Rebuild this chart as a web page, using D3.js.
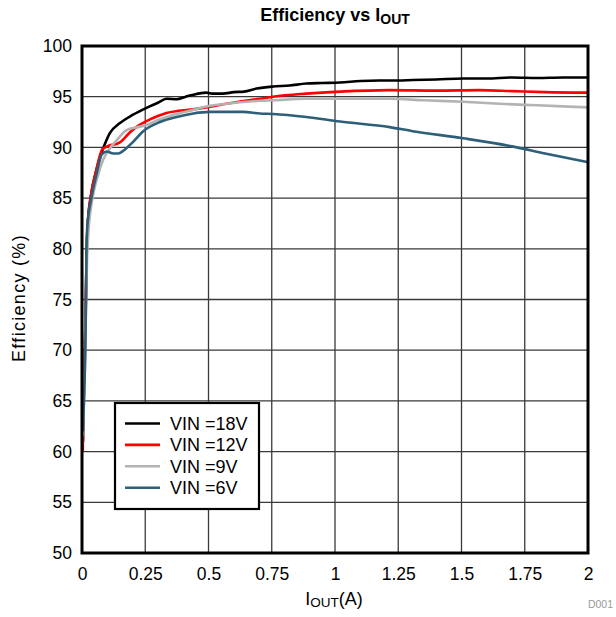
<!DOCTYPE html>
<html><head><meta charset="utf-8">
<script src="https://cdn.jsdelivr.net/npm/d3@7"></script>
<style>body{margin:0;background:#fff}svg{display:block;font-family:"Liberation Sans",Arial,sans-serif}</style>
</head><body>
<svg id="c" width="616" height="617"></svg>
<script>
const xTicks = [0,0.25,0.5,0.75,1,1.25,1.5,1.75,2];
const xTickLabels = ["0","0.25","0.5","0.75","1","1.25","1.5","1.75","2"];
const yTicks = [50,55,60,65,70,75,80,85,90,95,100];
const seriesNames = ["VIN =18V","VIN =12V","VIN =9V","VIN =6V"];
const seriesColors = ["#000000","#ff0000","#b3b3b3","#2e5f78"];
const vin18 = [[0.004,61],[0.008,66],[0.012,70.5],[0.016,76],[0.019,80],[0.023,82.5],[0.035,85.2],[0.055,87.6],[0.075,89.3],[0.09,90.3],[0.11,91.4],[0.15,92.4],[0.2,93.2],[0.255,93.9],[0.3,94.4],[0.334,94.8],[0.374,94.75],[0.41,95.0],[0.44,95.2],[0.49,95.4],[0.52,95.3],[0.556,95.3],[0.6,95.45],[0.64,95.5],[0.69,95.8],[0.755,96.0],[0.82,96.1],[0.887,96.3],[0.95,96.35],[1.02,96.4],[1.1,96.55],[1.176,96.6],[1.25,96.6],[1.307,96.65],[1.4,96.7],[1.506,96.8],[1.6,96.8],[1.7,96.9],[1.8,96.85],[1.9,96.9],[2.0,96.9]];
const vin12 = [[0.003,60],[0.004,62.3],[0.008,66.5],[0.012,71],[0.016,76.5],[0.019,80.5],[0.023,82.5],[0.035,85.2],[0.055,87.6],[0.08,89.8],[0.1,90.1],[0.15,90.5],[0.19,91.5],[0.22,92.1],[0.255,92.6],[0.3,93.1],[0.334,93.4],[0.38,93.6],[0.44,93.75],[0.505,94.0],[0.571,94.3],[0.62,94.5],[0.703,94.8],[0.755,95.0],[0.887,95.3],[1.02,95.5],[1.216,95.65],[1.4,95.6],[1.57,95.65],[1.7,95.55],[1.83,95.45],[2.0,95.4]];
const vin9 = [[0.004,61.5],[0.008,65],[0.012,69],[0.016,74.5],[0.02,79],[0.025,81.5],[0.04,84.8],[0.06,87],[0.084,88.8],[0.11,89.9],[0.137,90.7],[0.176,91.7],[0.22,92.0],[0.255,92.2],[0.3,92.7],[0.347,93.1],[0.44,93.7],[0.505,94.1],[0.571,94.3],[0.703,94.6],[0.755,94.65],[0.887,94.8],[1.0,94.8],[1.216,94.8],[1.35,94.65],[1.506,94.5],[1.65,94.3],[1.8,94.15],[2.0,93.95]];
const vin6 = [[0.004,62],[0.008,65.5],[0.012,68.7],[0.016,75.3],[0.018,80.2],[0.021,82.2],[0.038,85.1],[0.058,87.4],[0.078,89.3],[0.097,89.6],[0.124,89.4],[0.143,89.4],[0.17,89.8],[0.2,90.5],[0.242,91.6],[0.308,92.5],[0.374,93.0],[0.44,93.35],[0.505,93.5],[0.571,93.5],[0.637,93.5],[0.703,93.35],[0.755,93.3],[0.887,93.0],[1.02,92.55],[1.216,92.0],[1.307,91.6],[1.506,90.9],[1.7,90.1],[1.83,89.4],[2.0,88.55]];
const seriesData = [vin18, vin12, vin9, vin6];

const svg = d3.select("#c");
const L=82, R=588, T=46, B=553;
const x = d3.scaleLinear().domain([0,2]).range([L,R]);
const y = d3.scaleLinear().domain([50,100]).range([B,T]);

const g = svg.append("g");
g.selectAll(".vx").data(xTicks.slice(1,-1)).enter().append("line")
  .attr("x1",d=>x(d)).attr("x2",d=>x(d)).attr("y1",T).attr("y2",B)
  .attr("stroke","#3a3a3a").attr("stroke-width",1.3);
g.selectAll(".hy").data(yTicks.slice(1,-1)).enter().append("line")
  .attr("y1",d=>y(d)).attr("y2",d=>y(d)).attr("x1",L).attr("x2",R)
  .attr("stroke","#3a3a3a").attr("stroke-width",1.3);

const xAxis = d3.axisBottom(x).tickValues(xTicks).tickFormat((d,i)=>xTickLabels[i]).tickSize(0).tickPadding(15);
const yAxis = d3.axisLeft(y).tickValues(yTicks).tickSize(0).tickPadding(10);
const ax = svg.append("g").attr("transform",`translate(0,${B})`).call(xAxis);
const ay = svg.append("g").attr("transform",`translate(${L},0)`).call(yAxis);
[ax,ay].forEach(a=>{a.select(".domain").remove();a.selectAll("text").attr("font-size",17.5).attr("fill","#000").attr("font-family","Liberation Sans, Arial, sans-serif");});

svg.append("clipPath").attr("id","clip").append("rect").attr("x",L).attr("y",T).attr("width",R-L).attr("height",B-T);

const line = d3.line().x(d=>x(d[0])).y(d=>y(d[1])).curve(d3.curveMonotoneX);
seriesData.forEach((s,i)=>{
  svg.append("path").datum(s).attr("d",line).attr("fill","none")
    .attr("stroke",seriesColors[i]).attr("stroke-width",2.6)
    .attr("stroke-linejoin","round").attr("clip-path","url(#clip)");
});

svg.append("rect").attr("x",L).attr("y",T).attr("width",R-L).attr("height",B-T)
  .attr("fill","none").attr("stroke","#000").attr("stroke-width",3);

const lg = svg.append("g");
lg.append("rect").attr("x",115).attr("y",403).attr("width",144).attr("height",106)
  .attr("fill","#fff").attr("stroke","#000").attr("stroke-width",2.2);
seriesNames.forEach((n,i)=>{
  const yy = 423.5 + i*21.4;
  lg.append("line").attr("x1",125).attr("x2",160).attr("y1",yy).attr("y2",yy)
    .attr("stroke",seriesColors[i]).attr("stroke-width",2.6);
  lg.append("text").attr("x",170).attr("y",yy+6.5).attr("font-size",18).text(n);
});

const t = svg.append("text").attr("x",335).attr("y",21).attr("text-anchor","middle")
  .attr("font-size",18).attr("font-weight","bold");
t.append("tspan").text("Efficiency vs I");
t.append("tspan").attr("dy",3).attr("font-size",14).text("OUT");

const xl = svg.append("text").attr("x",334).attr("y",605).attr("text-anchor","middle").attr("font-size",18);
xl.append("tspan").text("I");
xl.append("tspan").attr("font-size",13.5).attr("dy",2).text("OUT");
xl.append("tspan").attr("dy",-2).text("(A)");

svg.append("text").attr("transform","translate(25,298) rotate(-90)").attr("text-anchor","middle")
  .attr("font-size",18).attr("letter-spacing",1.3).text("Efficiency (%)");

svg.append("text").attr("x",613).attr("y",608).attr("text-anchor","end").attr("font-size",10.5)
  .attr("fill","#999").text("D001");
</script>
</body></html>
